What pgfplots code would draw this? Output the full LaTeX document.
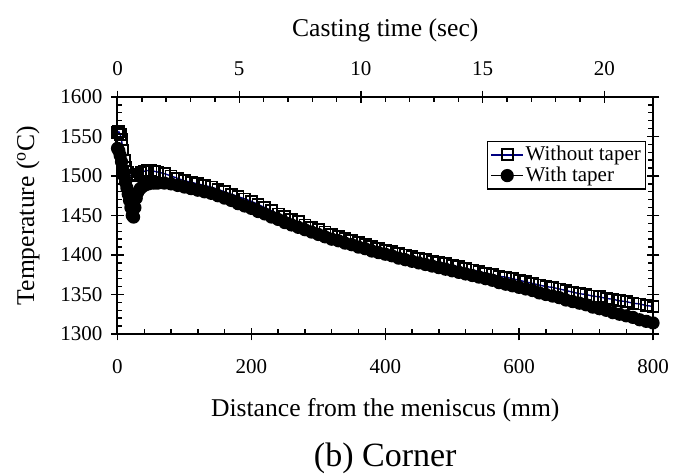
\documentclass[border=0pt]{standalone}
\usepackage{fontspec}
\setmainfont{Liberation Serif}
\usepackage{pgfplots}
\usepackage{pgfplotstable}
\pgfplotsset{compat=1.18}
\definecolor{navyline}{RGB}{0,0,128}

\pgfplotstableread{
mm T
0 1555
2 1556
4 1553
6 1546
8 1533
10 1520
12 1511
15 1505
18 1501
21 1500
25 1500
30 1502
35 1504
40 1506
45 1507
50 1507
55 1506
60 1505
70 1503
80 1500
90 1497
100 1494
110 1492
120 1490
130 1488
140 1486
150 1483
160 1480
170 1477
180 1474
190 1471
200 1468
210 1464
220 1460
230 1456
240 1452
250 1449
260 1445
270 1442
280 1438
290 1435
300 1432
310 1429
320 1426
330 1423
340 1421
350 1418
360 1416
370 1413
380 1411
390 1408
400 1406
410 1404
420 1402
430 1400
440 1398
450 1396
460 1394
470 1392
480 1391
490 1389
500 1387
510 1385
520 1383
530 1381
540 1379
550 1377
560 1375
570 1373
580 1372
590 1370
600 1368
610 1366
620 1364
630 1362
640 1360
650 1359
660 1357
670 1355
680 1353
690 1351
700 1350
710 1348
720 1347
730 1345
740 1344
750 1342
760 1341
770 1339
780 1338
790 1336
800 1335
}\withouttaper

\pgfplotstableread{
mm T
0 1535
2 1532
4 1526
6 1518
8 1508
10 1500
12 1492
14 1485
16 1477
18 1469
20 1460
22 1450
24 1448
26 1460
28 1472
30 1479
34 1484
38 1487
42 1489
46 1490
50 1491
55 1491
60 1491
70 1491
80 1490
90 1488
100 1486
110 1484
120 1482
130 1480
140 1478
150 1475
160 1472
170 1469
180 1465
190 1462
200 1459
210 1455
220 1452
230 1448
240 1445
250 1441
260 1438
270 1435
280 1432
290 1429
300 1426
310 1423
320 1420
330 1418
340 1415
350 1413
360 1410
370 1408
380 1405
390 1403
400 1401
410 1399
420 1396
430 1394
440 1392
450 1390
460 1388
470 1386
480 1384
490 1382
500 1380
510 1378
520 1376
530 1374
540 1372
550 1370
560 1368
570 1365
580 1363
590 1361
600 1359
610 1357
620 1355
630 1352
640 1350
650 1348
660 1346
670 1343
680 1341
690 1339
700 1337
710 1334
720 1332
730 1330
740 1327
750 1325
760 1323
770 1321
780 1318
790 1316
800 1314
}\withtaper

\pgfplotsset{
  myaxis/.style={
    width=267.75pt, height=118.5pt, scale only axis,
    at={(0,0)}, anchor=south west,
    /pgf/number format/assume math mode=true,
    /pgf/number format/1000 sep={},
    tick label style={font=\fontsize{10.5}{12}\selectfont},
    label style={font=\fontsize{12.8}{14}\selectfont},
    axis line style={line width=1pt},
    every tick/.style={black, line width=0.7pt},
    major tick length=3.2pt, minor tick length=2.3pt,
  }
}

\begin{document}
\begin{tikzpicture}
\useasboundingbox (-58.75pt,-70pt) rectangle (283.25pt,167pt);

% main axis
\begin{axis}[myaxis,
  xmin=0, xmax=800, ymin=1300, ymax=1600,
  xtick={0,200,...,800}, ytick={1300,1350,...,1600},
  minor x tick num=4, minor y tick num=4,
  xtick pos=bottom, ytick pos=both,
  tick align=inside,
  xticklabel style={yshift=-9pt},
  yticklabel style={xshift=-4pt},
  xlabel={Distance from the meniscus (mm)},
  xlabel style={at={(axis description cs:0.5,-0.3207)}, anchor=center},
  ylabel={Temperature (\textsuperscript{o}C)},
  ylabel style={at={(axis description cs:-0.167,0.5)}, anchor=center},
  clip=false,
  legend style={at={(axis description cs:0.987,0.815)}, anchor=north east,
    draw=black, line width=0.6pt, fill=white,
    font=\fontsize{10.5}{11}\selectfont, inner sep=1.5pt, row sep=0pt,
    nodes={inner sep=0.8pt},
    legend cell align=left},
  legend image code/.code={\draw[mark repeat=2,mark phase=2] plot coordinates {(0pt,0pt) (8pt,0pt) (16pt,0pt)};},
]
\addplot[navyline, line width=0.7pt, mark=square,
  mark options={solid, fill=white, draw=black, line width=0.9pt}, mark size=2.75pt]
  table[x=mm, y=T] {\withouttaper};
\addlegendentry{Without taper}
\addplot[black, line width=0.8pt, mark=*,
  mark options={solid, fill=black}, mark size=2.9pt]
  table[x=mm, y=T] {\withtaper};
\addlegendentry{With taper}
\node[font=\fontsize{17}{19}\selectfont] at (axis description cs:0.5,-0.525) {(b) Corner};
\end{axis}

% outside halves of major ticks (main)
\begin{axis}[myaxis,
  xmin=0, xmax=800, ymin=1300, ymax=1600,
  xtick={0,200,...,800}, ytick={1300,1350,...,1600},
  xtick pos=bottom, ytick pos=both,
  tick align=outside, xticklabels={}, yticklabels={},
]
\end{axis}

% top axis: casting time
\begin{axis}[myaxis,
  xmin=0, xmax=22.0, ymin=0, ymax=1,
  axis x line*=top, axis y line=none,
  xtick={0,5,...,20}, minor x tick num=4,
  tick align=inside,
  xticklabel style={yshift=7pt},
  xlabel={Casting time (sec)},
  xlabel style={at={(axis description cs:0.5,1.283)}, anchor=center},
]
\end{axis}
\begin{axis}[myaxis,
  xmin=0, xmax=22.0, ymin=0, ymax=1,
  axis x line*=top, axis y line=none,
  xtick={0,5,...,20},
  tick align=outside, xticklabels={},
]
\end{axis}
\end{tikzpicture}
\end{document}
